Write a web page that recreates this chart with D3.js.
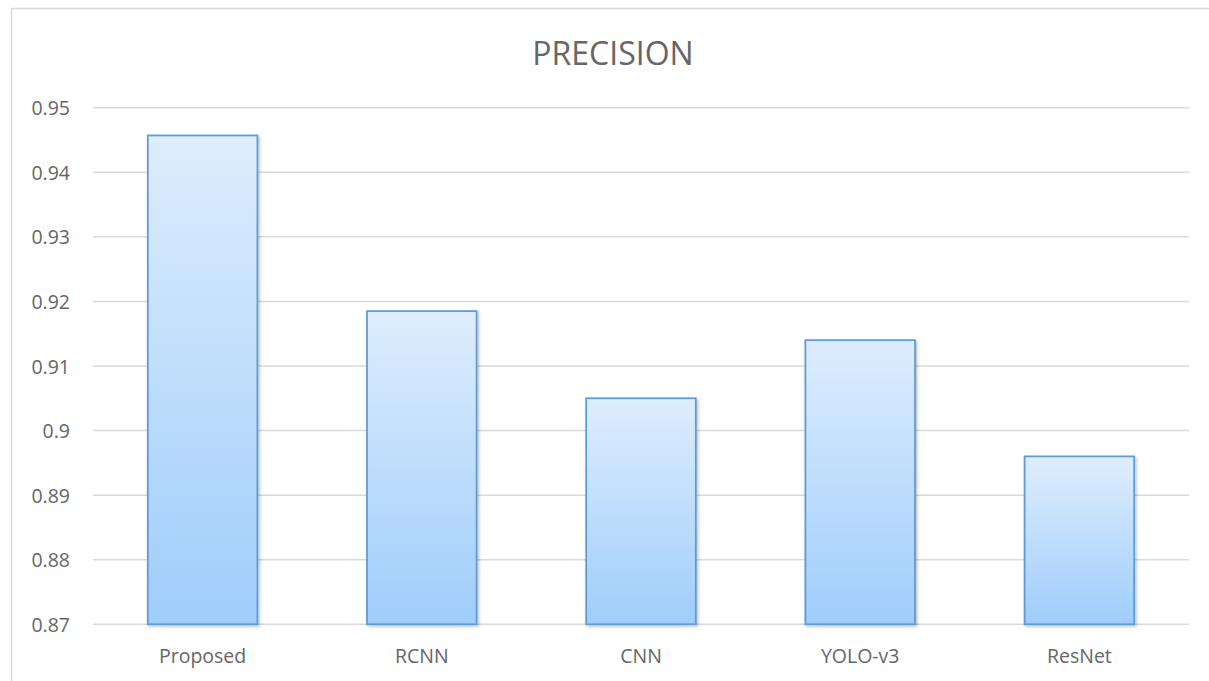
<!DOCTYPE html>
<html>
<head>
<meta charset="utf-8">
<script src="https://cdn.jsdelivr.net/npm/d3@7"></script>
<style>
  html, body { margin: 0; padding: 0; background: #fff; }
  svg { display: block; }
</style>
</head>
<body>
<svg id="chart" width="1209" height="681"></svg>
<script>
const title = "PRECISION";
const categories = ["Proposed", "RCNN", "CNN", "YOLO-v3", "ResNet"];
const values = [0.9457, 0.9185, 0.905, 0.914, 0.896];
const tickValues = [0.87, 0.88, 0.89, 0.9, 0.91, 0.92, 0.93, 0.94, 0.95];
const tickLabels = ["0.87", "0.88", "0.89", "0.9", "0.91", "0.92", "0.93", "0.94", "0.95"];

(function () {
const svg = d3.select("#chart");
const font = "'Open Sans', sans-serif";
const textColor = "#666666";

const defs = svg.append("defs");
const grad = defs.append("linearGradient").attr("id", "barGrad")
  .attr("x1", 0).attr("y1", 0).attr("x2", 0).attr("y2", 1);
grad.append("stop").attr("offset", "0%").attr("stop-color", "#deedfd");
grad.append("stop").attr("offset", "100%").attr("stop-color", "#9fcdfb");

const filt = defs.append("filter").attr("id", "shadow")
  .attr("x", "-10%").attr("y", "-10%").attr("width", "130%").attr("height", "130%");
filt.append("feDropShadow").attr("dx", 1.5).attr("dy", 1.5).attr("stdDeviation", 1.5)
  .attr("flood-color", "#000").attr("flood-opacity", 0.25);

// chart frame
svg.append("rect").attr("x", 11.5).attr("y", 8.5).attr("width", 1300).attr("height", 700)
  .attr("fill", "none").attr("stroke", "#d9d9d9").attr("stroke-width", 1.5);

const pLeft = 93, pRight = 1189, pTop = 107.7, pBottom = 624.3;

const x = d3.scaleBand().domain(categories).range([pLeft, pRight]).paddingInner(0.5).paddingOuter(0.25);
const y = d3.scaleLinear().domain([0.87, 0.95]).range([pBottom, pTop]);

// gridlines
svg.append("g").selectAll("line").data(tickValues).join("line")
  .attr("x1", pLeft).attr("x2", pRight)
  .attr("y1", d => y(d)).attr("y2", d => y(d))
  .attr("stroke", "#d9d9d9").attr("stroke-width", 1.5);

// y axis labels
const yAxis = d3.axisLeft(y).tickValues(tickValues)
  .tickFormat((d, i) => tickLabels[i]).tickSize(0).tickPadding(0);
const yg = svg.append("g").attr("transform", `translate(70,0)`).call(yAxis);
yg.select(".domain").remove();
yg.selectAll("text").attr("font-family", font).attr("font-size", 19.5)
  .attr("fill", textColor).attr("dy", "0.36em");

// bars
svg.append("g").selectAll("rect").data(values).join("rect")
  .attr("x", (d, i) => x(categories[i]))
  .attr("width", x.bandwidth())
  .attr("y", d => y(d))
  .attr("height", d => y(0.87) - y(d))
  .attr("fill", "url(#barGrad)")
  .attr("stroke", "#5b9bd5").attr("stroke-width", 1.75)
  .attr("filter", "url(#shadow)");

// x axis labels
const xAxis = d3.axisBottom(x).tickSize(0).tickPadding(0);
const xg = svg.append("g").attr("transform", `translate(0,${pBottom})`).call(xAxis);
xg.select(".domain").remove();
xg.selectAll("text").attr("font-family", font).attr("font-size", 19.5)
  .attr("fill", textColor).attr("dy", 0).attr("y", 39);

// title
svg.append("text").attr("x", 613).attr("y", 65).attr("text-anchor", "middle")
  .attr("font-family", font).attr("font-size", 32).attr("fill", textColor)
  .text(title);
})();
</script>
</body>
</html>
